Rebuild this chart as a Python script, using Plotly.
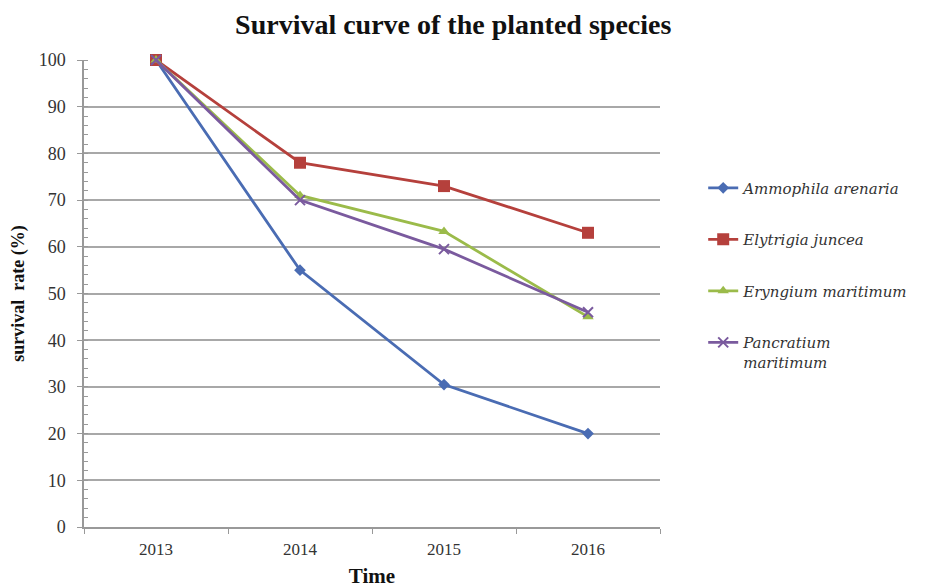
import plotly.graph_objects as go

years = ["2013", "2014", "2015", "2016"]
ammophila = [100, 55, 30.5, 20]
elytrigia = [100, 78, 73, 63]
eryngium = [100, 71, 63.3, 45]
pancratium = [100, 70, 59.5, 46]

names = ["<i>Ammophila arenaria</i>", "<i>Elytrigia juncea</i>", "<i>Eryngium maritimum</i>",
         "<i>Pancratium</i><br><i>maritimum</i>"]
series = [ammophila, elytrigia, eryngium, pancratium]
colors = ["#4A6CB3", "#B5403C", "#9BBB4A", "#7A5A9E"]
symbols = ["diamond", "square", "triangle-up", "x-thin"]
sizes = [9, 12, 10, 10]

SERIF = "Liberation Serif, Times New Roman, DejaVu Serif, serif"
LEG = "DejaVu Serif, serif"

fig = go.Figure()
for i, (n, s, c, sym, sz) in enumerate(zip(names, series, colors, symbols, sizes)):
    marker = dict(symbol=sym, size=sz, color=c)
    if sym == "x-thin":
        marker["line"] = dict(color=c, width=2)
    fig.add_trace(go.Scatter(
        x=years, y=s, name=n, mode="lines+markers",
        line=dict(color=c, width=2.8), marker=marker,
        cliponaxis=False, legendgroup=str(i),
    ))

fig.update_layout(
    width=918, height=580,
    margin=dict(l=76, r=266, t=52, b=61),
    paper_bgcolor="white", plot_bgcolor="white",
    font=dict(family=SERIF, color="#333333"),
    title=dict(text="<b>Survival curve of the planted species</b>", x=0.485, xanchor="center",
               y=0.972, yanchor="middle", font=dict(family=SERIF, size=28, color="#111111")),
    legend=dict(x=1.075, y=0.761, xanchor="left", yanchor="top", valign="top",
                font=dict(family=LEG, size=15, color="#333333"),
                tracegroupgap=29, traceorder="grouped", itemwidth=30),
    showlegend=True,
)
fig.update_xaxes(
    type="category", tickson="boundaries", ticks="outside", ticklen=5, tickcolor="#999999",
    showline=True, linecolor="#999999", linewidth=1.5, showgrid=False,
    tickfont=dict(family=SERIF, size=17, color="#333333"), range=[-0.5, 3.5], ticklabelstandoff=6,
    automargin=False,
    title=dict(text="<b>Time</b>", font=dict(family=SERIF, size=21, color="#111111"), standoff=11),
)
fig.update_yaxes(
    range=[0, 100], dtick=10, ticks="outside", ticklen=5, tickcolor="#999999",
    showline=True, linecolor="#999999", linewidth=1.5,
    showgrid=True, gridcolor="#A8A8A8", gridwidth=1.8, zeroline=False,
    minor=dict(dtick=2, ticks="inside", ticklen=4, tickcolor="#999999", showgrid=False),
    tickfont=dict(family=SERIF, size=18, color="#333333"), ticklabelstandoff=8, automargin=False,
    title=dict(text="<b>survival  rate (%)</b>", font=dict(family=SERIF, size=18, color="#111111"), standoff=11),
)

fig.write_html("out.html")
